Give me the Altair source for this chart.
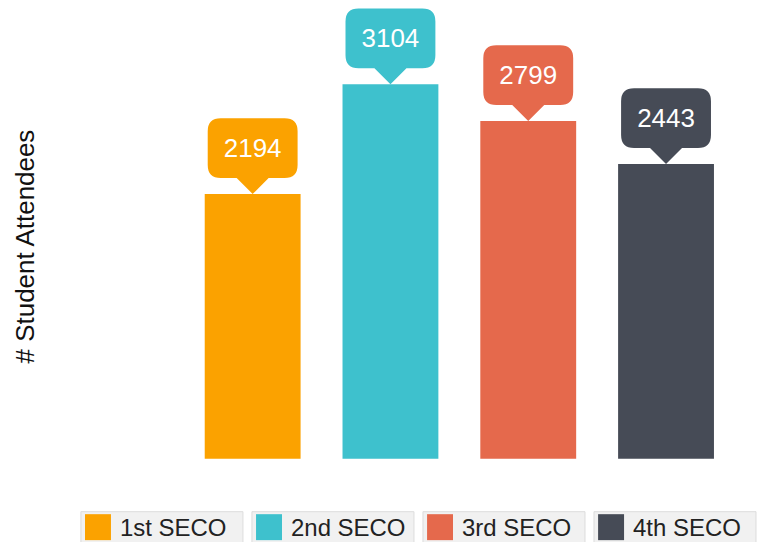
import altair as alt
import pandas as pd

# ---- data ----
editions = ["1st SECO", "2nd SECO", "3rd SECO", "4th SECO"]
attendees = [2194, 3104, 2799, 2443]
colors = ["#FBA200", "#3EC1CD", "#E5694C", "#464B56"]

df = pd.DataFrame({"edition": editions, "attendees": attendees})

FONT = "Liberation Sans"

# callout shape: tip at origin (bar top), rounded box above it
CALLOUT = ("M0,0 L-0.356,-0.356 L-0.71,-0.356 Q-1,-0.356 -1,-0.646 "
           "L-1,-1.4 Q-1,-1.689 -0.71,-1.689 L0.71,-1.689 Q1,-1.689 1,-1.4 "
           "L1,-0.646 Q1,-0.356 0.71,-0.356 L0.356,-0.356 Z")

color_scale = alt.Scale(domain=editions, range=colors)

x_main = alt.X("edition:N", sort=editions, axis=None,
               scale=alt.Scale(paddingInner=0.3043, paddingOuter=0.678, align=0.775))
y_main = alt.Y("attendees:Q", scale=alt.Scale(domain=[0, 3800]),
               axis=alt.Axis(title="# Student Attendees", labels=False, ticks=False,
                             domain=False, grid=False, titleFontSize=26, titleFont=FONT,
                             titleFontWeight="normal", titleColor="#111111",
                             titlePadding=21, minExtent=0, titleY=246))

base = alt.Chart(df)

bars = base.mark_bar().encode(
    x=x_main, y=y_main,
    color=alt.Color("edition:N", scale=color_scale, legend=None))

callouts = base.mark_point(shape=CALLOUT, size=8100, filled=True, opacity=1,
                           strokeWidth=0).encode(
    x=x_main, y=y_main,
    color=alt.Color("edition:N", scale=color_scale, legend=None))

values_text = base.mark_text(dy=-45, fontSize=26, color="white", font=FONT,
                             baseline="middle").encode(
    x=x_main, y=y_main, text="attendees:Q")

main = alt.layer(bars, callouts, values_text).properties(width=697, height=459)

# ---- legend panel ----
x_leg = alt.X("edition:N", sort=editions, axis=None,
              scale=alt.Scale(paddingInner=0.0526, paddingOuter=0.0613, align=1))

leg_boxes = base.mark_rect(fill="#F1F1F1", stroke="#DCDCDC", strokeWidth=1).encode(x=x_leg)
leg_swatch = base.mark_square(size=676, filled=True, opacity=1, xOffset=-64).encode(
    x=x_leg, color=alt.Color("edition:N", scale=color_scale, legend=None))
leg_text = base.mark_text(align="left", dx=-42, dy=2, fontSize=24, font=FONT,
                          color="#222222", baseline="middle").encode(
    x=x_leg, text="edition:N")

legend = alt.layer(leg_boxes, leg_swatch, leg_text).properties(width=697, height=31)

chart = alt.vconcat(main, legend, spacing=52).properties(
    padding={"left": 13, "top": 0, "right": 0, "bottom": 0}
).configure_view(strokeWidth=0)

chart.save("out.html", embed_options={"renderer": "svg", "actions": False})
